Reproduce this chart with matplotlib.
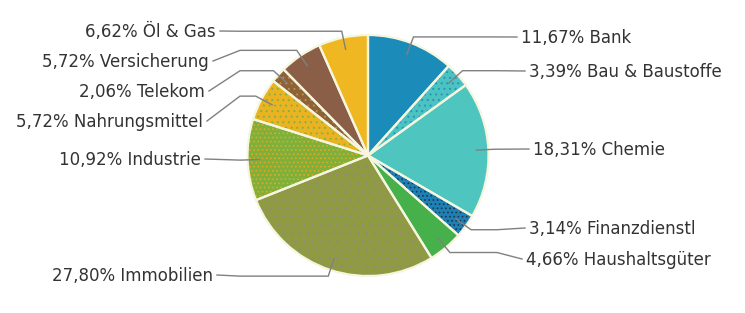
import numpy as np
import matplotlib.pyplot as plt

# Branchengewichtung
sectors = ["Bank", "Bau & Baustoffe", "Chemie", "Finanzdienstl", "Haushaltsgüter",
           "Immobilien", "Industrie", "Nahrungsmittel", "Telekom", "Versicherung", "Öl & Gas"]
weights = [11.67, 3.39, 18.31, 3.14, 4.66, 27.80, 10.92, 5.72, 2.06, 5.72, 6.62]
colors = ["#1b8cb9", "#4bc3c0", "#4ec5be", "#1e80b4", "#46b04a",
          "#8f9b42", "#7fb03a", "#e9b322", "#8d6238", "#8b5f47", "#efb823"]
# dot patterns on some slices (colour of the dots)
hatches = [None, "...", None, "....", None, "..", "....", "...", "...", None, None]
dot_colors = ["none", "#2a90c0", "none", "#1a3850", "none",
              "#98887a", "#e0aa28", "#88b040", "#c09040", "none", "none"]

# label layout in pixels (x, y from top); right side left-aligned, left side right-aligned
label_pos = [(521, 37), (529, 71), (533, 149), (529, 228), (526, 259),
             (213, 275), (201, 159), (203, 121), (205, 91), (209, 61), (216, 31)]

W, H = 745, 313
cx, cy, R = 368, H - 155.5, 120.5

fig = plt.figure(figsize=(W / 100, H / 100), dpi=100)
ax = fig.add_axes([0, 0, 1, 1])

wedges, _ = ax.pie(weights, colors=colors, startangle=90, counterclock=False,
                   center=(cx, cy), radius=R, wedgeprops=dict(linewidth=0))

plt.rcParams["hatch.linewidth"] = 0.7
over, _ = ax.pie(weights, colors=["none"] * len(weights), startangle=90, counterclock=False,
                 center=(cx, cy), radius=R, wedgeprops=dict(linewidth=0))
for w, h, dc in zip(over, hatches, dot_colors):
    if h:
        w.set_edgecolor(dc)
        w.set_linewidth(0)
        w.set_hatch(h)

ax.pie(weights, colors=["none"] * len(weights), startangle=90, counterclock=False,
       center=(cx, cy), radius=R, wedgeprops=dict(linewidth=1.6, edgecolor="#f6f6de"))

for w, name, v, (lx, ly) in zip(wedges, sectors, weights, label_pos):
    mid = np.deg2rad((w.theta1 + w.theta2) / 2)
    ax0 = cx + 0.9 * R * np.cos(mid)
    ay0 = cy + 0.9 * R * np.sin(mid)
    kx = cx + 127 * np.cos(mid)
    ky = cy + 127 * np.sin(mid)
    right = np.cos(mid) > 0
    bx = 497 if right else 240
    ey = H - ly
    ex = lx - 4 if right else lx + 4
    ax.plot([ax0, kx, bx, ex], [ay0, ky, ky, ey], color="#808080", lw=1.0,
            solid_joinstyle="miter", zorder=5)
    txt = f"{v:.2f}".replace(".", ",") + "% " + name
    ax.text(lx, ey - 6, txt, ha="left" if right else "right", va="baseline",
            fontsize=12, color="#333333", family="DejaVu Sans")

ax.set_xlim(0, W)
ax.set_ylim(0, H)
ax.set_aspect("equal")
ax.axis("off")

plt.savefig("out.png", dpi=100)
